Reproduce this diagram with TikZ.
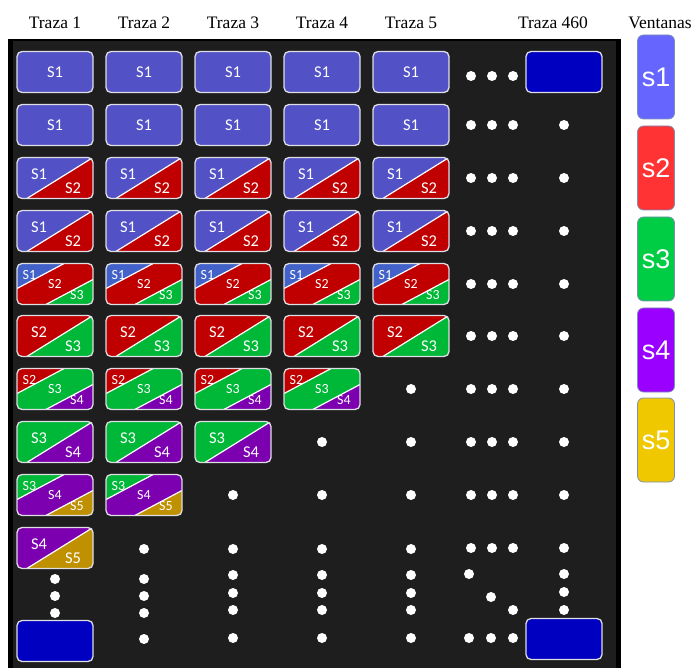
\documentclass[tikz,border=0pt]{standalone}
\usepackage{fontspec}
\setmainfont{Liberation Serif}
\newfontfamily\cellfont{Carlito}
\newfontfamily\legfont{Liberation Sans}
\usepackage{tikz}
\usetikzlibrary{positioning,calc}

\definecolor{panel}{HTML}{1E1E1E}
\definecolor{cellline}{RGB}{222,222,228}
\definecolor{sc1}{RGB}{82,82,198}
\definecolor{sc2}{RGB}{192,0,0}
\definecolor{sc3}{RGB}{0,184,56}
\definecolor{sc4}{RGB}{124,0,176}
\definecolor{sc5}{RGB}{191,144,0}
% the top corner of a three-window cell
\definecolor{st1}{RGB}{66,98,202}
\colorlet{st2}{sc2}
\colorlet{st3}{sc3}
\definecolor{deepblue}{RGB}{0,0,192}
\definecolor{wone}{HTML}{6666FF}
\definecolor{wtwo}{HTML}{FF3333}
\definecolor{wthree}{HTML}{00CC44}
\definecolor{wfour}{HTML}{9900FF}
\definecolor{wfive}{HTML}{F0C800}
\definecolor{wline}{HTML}{7C8FB8}

\begin{document}
\begin{tikzpicture}[x=1pt,y=-1pt,
 cellbox/.style={rounded corners=5pt,draw=cellline,line width=1.3pt,minimum width=76pt,
  minimum height=41pt,inner sep=0pt,text=white,font=\cellfont\fontsize{16.5pt}{16.5pt}\selectfont},
 tag/.style={inner sep=0pt,minimum size=0pt,draw=none,fill=none},
 cut/.style={white,line width=1.2pt,sharp corners},
 onecell/.style={cellbox,fill=sc1},
 lastcell/.style={cellbox,fill=deepblue},
 twocell/.style 2 args={cellbox,fill=sc#1,path picture={
  \coordinate (sw) at (path picture bounding box.south west);
  \coordinate (se) at (path picture bounding box.south east);
  \coordinate (ne) at (path picture bounding box.north east);
  \fill[sc#2,sharp corners] ($(sw)!0.13!(se)$) coordinate (d) -- (ne) -- (se) -- cycle;
  \draw[cut] (d) -- (ne);
  \node[tag] at ($(sw)+(22pt,24pt)$) {S#1};
  \node[tag] at ($(sw)+(56pt,10pt)$) {S#2};}},
 threecell/.style n args={3}{cellbox,fill=sc#2,font=\cellfont\fontsize{14pt}{14pt}\selectfont,path picture={
  \coordinate (sw) at (path picture bounding box.south west);
  \coordinate (se) at (path picture bounding box.south east);
  \coordinate (nw) at (path picture bounding box.north west);
  \coordinate (ne) at (path picture bounding box.north east);
  \fill[st#1,sharp corners] ($(sw)!0.39!(nw)$) coordinate (p) -- ($(nw)!0.62!(ne)$) coordinate (q) -- (nw) -- cycle;
  \fill[sc#3,sharp corners] ($(sw)!0.38!(se)$) coordinate (u) -- ($(se)!0.61!(ne)$) coordinate (v) -- (se) -- cycle;
  \draw[cut] (p) -- (q) (u) -- (v);
  \node[tag] at ($(sw)+(12.5pt,29pt)$) {S#1};
  \node[tag] at ($(sw)+(38pt,20pt)$) {S#2};
  \node[tag] at ($(sw)+(60pt,9pt)$) {S#3};}},
 head/.style={inner sep=0pt,font=\fontsize{17.5pt}{18pt}\selectfont},
 winbox/.style={rounded corners=6pt,draw=wline,line width=0.8pt,minimum width=37pt,
  minimum height=84pt,inner sep=0pt,text=white,font=\legfont\fontsize{27pt}{27pt}\selectfont}]
\useasboundingbox (0,0) rectangle (696,668);
% dark panel
\fill[black] (8,39) rectangle (621,668);
\fill[panel] (13,41) rectangle (616,668);
% column heads
\foreach \x [count=\i] in {55,144,233,322,411}
 \node[head] (h\i) at (\x,23) {Traza \i};
\node[head] (h460) at (553,23) {Traza 460};
\node[head] (hwin) at (660,23) {Ventanas};
% windows per trace
\foreach \x [count=\i] in {55,144,233,322,411}{
 \node[onecell] (r1c\i) at (\x,72) {S1};
 \node[onecell] (r2c\i) at (\x,125) {S1};
 \node[twocell={1}{2}] (r3c\i) at (\x,178) {};
 \node[twocell={1}{2}] (r4c\i) at (\x,231) {};
 \node[threecell={1}{2}{3}] (r5c\i) at (\x,284) {};
 \node[twocell={2}{3}] (r6c\i) at (\x,336) {};
}
\foreach \x [count=\i] in {55,144,233,322}
 \node[threecell={2}{3}{4}] (r7c\i) at (\x,389) {};
\foreach \x [count=\i] in {55,144,233}
 \node[twocell={3}{4}] (r8c\i) at (\x,442) {};
\foreach \x [count=\i] in {55,144}
 \node[threecell={3}{4}{5}] (r9c\i) at (\x,495) {};
\node[twocell={4}{5}] (r10c1) at (55,548) {};
\node[lastcell] (endc1) at (55,641) {};
\node[lastcell] (topc460) at (564,72) {};
\node[lastcell] (endc460) at (564,639) {};
% dots
\foreach \x/\y in {55/579,55/596,55/613,
144/549,144/579,144/596,144/613,144/639,
233/495,233/549,233/575,233/593,233/610,233/638,
322/442,322/495,322/549,322/575,322/593,322/610,322/638,
411/389,411/442,411/495,411/549,411/575,411/593,411/610,411/638,
469/574,491/597,513/610,469/638,491/638,513/638,
564/574,564/592,564/610}
 \fill[white] (\x,\y) circle[radius=5pt];
\foreach \y in {76,125,178,231,284,336,389,442,495,548}
 \foreach \x in {471,492,513} \fill[white] (\x,\y) circle[radius=5pt];
\foreach \y in {125,178,231,284,336,389,442,495,548}
 \fill[white] (564,\y) circle[radius=5pt];
% legend
\foreach \c/\y [count=\i] in {wone/77,wtwo/168,wthree/259,wfour/350,wfive/440}
 \node[winbox,fill=\c] (w\i) at (656,\y) {s\i};
\end{tikzpicture}
\end{document}
